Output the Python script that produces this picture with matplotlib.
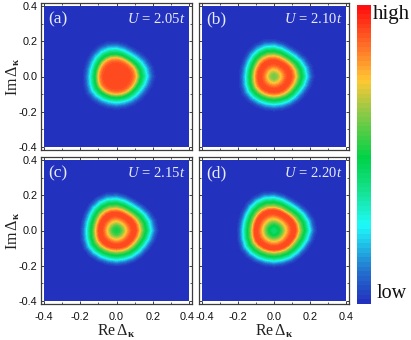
import numpy as np
import matplotlib
matplotlib.use("Agg")
import matplotlib.pyplot as plt
from matplotlib.colors import LinearSegmentedColormap, Normalize
from matplotlib.cm import ScalarMappable
from matplotlib.patches import Rectangle
from matplotlib.transforms import ScaledTranslation

plt.rcParams.update({
    "font.family": "Liberation Sans",
    "mathtext.fontset": "custom",
    "mathtext.rm": "Liberation Serif",
    "mathtext.it": "Liberation Serif:italic",
    "mathtext.bf": "Liberation Serif:bold",
})

# ---- values ----
panel_tags = ["(a)", "(b)", "(c)", "(d)"]
panel_u = ["2.05", "2.10", "2.15", "2.20"]
tick_values = [-0.4, -0.2, 0.0, 0.2, 0.4]
minor_values = [-0.3, -0.1, 0.1, 0.3]

# radial positions (data units) and colour level (0..1) at each, per panel
radii = [0.00, 0.01, 0.02, 0.03, 0.04, 0.05, 0.06, 0.07, 0.08, 0.09, 0.10, 0.11,
         0.12, 0.13, 0.14, 0.15, 0.16, 0.17, 0.18, 0.19, 0.20, 0.21, 0.22, 0.23]
level_a = [0.92, 0.92, 0.92, 0.92, 0.92, 0.92, 0.92, 0.91, 0.89, 0.84, 0.76, 0.63,
           0.50, 0.44, 0.36, 0.28, 0.20, 0.13, 0.07, 0.03, 0.01, 0.00, 0.00, 0.00]
level_b = [0.60, 0.61, 0.63, 0.68, 0.74, 0.80, 0.86, 0.90, 0.92, 0.91, 0.85, 0.76,
           0.65, 0.54, 0.47, 0.39, 0.30, 0.21, 0.14, 0.07, 0.03, 0.01, 0.00, 0.00]
level_c = [0.50, 0.50, 0.52, 0.57, 0.64, 0.71, 0.78, 0.85, 0.90, 0.92, 0.91, 0.83,
           0.72, 0.61, 0.52, 0.45, 0.37, 0.28, 0.20, 0.12, 0.06, 0.02, 0.00, 0.00]
level_d = [0.42, 0.42, 0.44, 0.48, 0.54, 0.61, 0.69, 0.76, 0.83, 0.89, 0.92, 0.92,
           0.82, 0.68, 0.58, 0.50, 0.43, 0.34, 0.26, 0.17, 0.09, 0.04, 0.01, 0.00]
panel_levels = [level_a, level_b, level_c, level_d]

# outline of the rounded triangle: relative radius every 15 degrees from +x
outline = [1.10, 1.08, 1.03, 0.98, 0.96, 0.99, 1.03, 1.05, 1.04, 1.01, 0.97, 0.95,
           0.95, 0.97, 1.00, 0.99, 0.97, 0.96, 0.96, 0.96, 0.97, 0.98, 1.00, 1.05]

# colour bar stops
cmap_pos = [0.0, 0.10, 0.26, 0.38, 0.49, 0.65, 0.75, 0.87, 1.0]
cmap_rgb = [(35, 50, 190), (35, 110, 205), (30, 250, 250), (20, 225, 140), (0, 210, 70),
            (150, 200, 70), (255, 200, 50), (255, 110, 40), (255, 15, 15)]

# ---- layout ----
W, H = 411, 340
fig = plt.figure(figsize=(W / 100, H / 100), dpi=100, facecolor="white")


def pixel_axes(x0, x1, y0, y1):
    return fig.add_axes([x0 / W, 1 - y1 / H, (x1 - x0) / W, (y1 - y0) / H])


cmap = LinearSegmentedColormap.from_list(
    "heat", [(p, tuple(c / 255 for c in rgb)) for p, rgb in zip(cmap_pos, cmap_rgb)], N=64)
norm = Normalize(0, 1)
steps = np.linspace(0.005, 1, 64)

boxes = [(41, 192, 3, 150), (199, 349, 3, 150), (41, 192, 157, 304), (199, 349, 157, 304)]
frame = "#3c3c3c"

angle = np.deg2rad(np.arange(0, 361, 15))
shape = np.array(outline + outline[:1])
r_grid = np.array(radii)
R, T = np.meshgrid(r_grid, angle, indexing="ij")
S = np.tile(shape, (len(r_grid), 1))
scale = 1 + np.minimum(R / 0.14, 1.0) * (S - 1)
X = R * scale * np.cos(T)
Y = R * scale * np.sin(T)

for i, box in enumerate(boxes):
    ax = pixel_axes(*box)
    ax.set_xlim(-0.417, 0.417)
    ax.set_ylim(-0.417, 0.417)
    ax.add_patch(Rectangle((-0.4, -0.4), 0.8, 0.8, facecolor=cmap(0), edgecolor="none", zorder=1))
    C = np.tile(np.array(panel_levels[i])[:, None], (1, len(angle)))
    ax.contourf(X, Y, C, levels=steps, cmap=cmap, norm=norm, zorder=2, antialiased=False)

    ax.set_xticks(tick_values)
    ax.set_yticks(tick_values)
    ax.set_xticks(minor_values, minor=True)
    ax.set_yticks(minor_values, minor=True)
    ax.tick_params(which="major", direction="in", length=2.2, width=0.7, color=frame,
                   top=True, right=True, labelsize=7.8, labelcolor="#111111")
    ax.tick_params(which="minor", direction="in", length=1.3, width=0.6, color=frame,
                   top=True, right=True)
    ax.tick_params(axis="x", which="major", pad=6)
    ax.tick_params(axis="y", which="major", pad=2.5)
    ax.set_xticklabels([f"{v:.1f}" for v in tick_values])
    ax.set_yticklabels([f"{v:.1f}" for v in tick_values])
    ax.tick_params(labelbottom=i >= 2, labelleft=i % 2 == 0)
    for sp in ax.spines.values():
        sp.set_color(frame)
        sp.set_linewidth(0.9)

    if i == 3:
        lab = ax.get_xticklabels()[0]
        lab.set_transform(lab.get_transform() + ScaledTranslation(3 / 100, 0, fig.dpi_scale_trans))
    if i == 2:
        lab = ax.get_xticklabels()[-1]
        lab.set_transform(lab.get_transform() + ScaledTranslation(-2 / 100, 0, fig.dpi_scale_trans))

    ax.text(0.05, 0.891, panel_tags[i], transform=ax.transAxes, color="#e8ecf8", fontsize=12.5,
            family="Liberation Serif", ha="left", va="center", zorder=5)
    ax.text(0.955, 0.891, rf"$U\,=\,{panel_u[i]}t$", transform=ax.transAxes, color="#e8ecf8",
            fontsize=10.5, ha="right", va="center", zorder=5)
    if i % 2 == 0:
        ax.set_ylabel(r"$\mathrm{Im}\,\Delta_{\mathbf{\kappa}}$", fontsize=11.5, labelpad=-2, color="#222222")
    if i >= 2:
        ax.set_xlabel(r"$\mathrm{Re}\,\Delta_{\mathbf{\kappa}}$", fontsize=11.5, labelpad=0, color="#222222")

cax = pixel_axes(357, 371, 5, 304)
cb = fig.colorbar(ScalarMappable(norm=norm, cmap=cmap), cax=cax)
cb.outline.set_visible(False)
cb.set_ticks([])
fig.text(373 / W, 1 - 15 / H, "high", family="Liberation Serif", fontsize=15, ha="left", va="center", color="#111111")
fig.text(377 / W, 1 - 293 / H, "low", family="Liberation Serif", fontsize=14.5, ha="left", va="center", color="#111111")

fig.savefig("out.png", dpi=100)
